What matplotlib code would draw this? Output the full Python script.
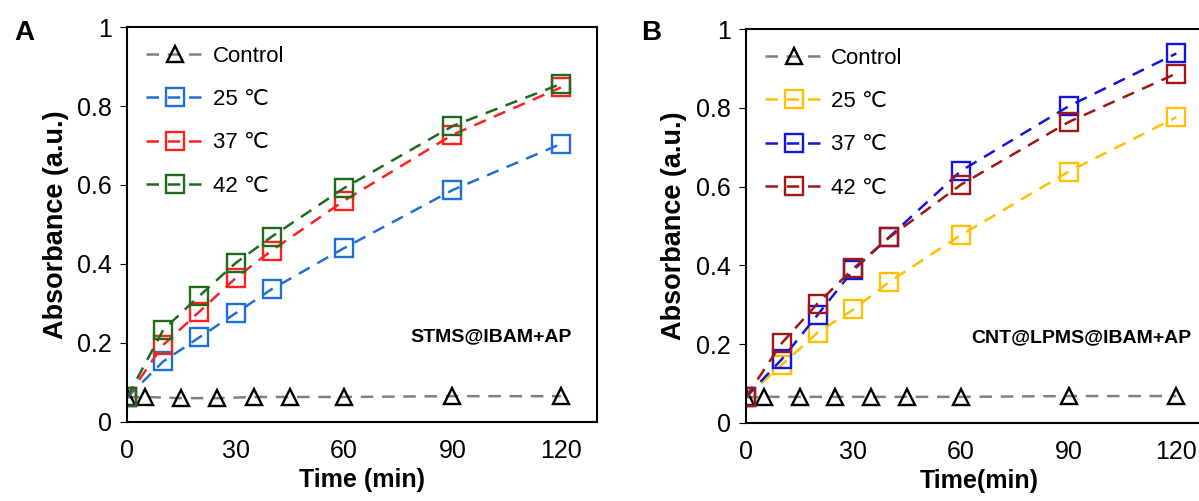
import matplotlib.pyplot as plt

plt.rcParams['font.family'] = ['Liberation Sans', 'DejaVu Sans']

# control (same sampling in both panels)
t_ctrl = [0, 5, 15, 25, 35, 45, 60, 90, 120]
ctrl_a = [0.062, 0.063, 0.060, 0.060, 0.063, 0.063, 0.063, 0.065, 0.065]
ctrl_b = [0.065, 0.066, 0.066, 0.066, 0.066, 0.066, 0.066, 0.068, 0.068]

t = [0, 10, 20, 30, 40, 60, 90, 120]

# panel A: STMS@IBAM+AP
a_25 = [0.062, 0.153, 0.214, 0.275, 0.336, 0.440, 0.587, 0.704]
a_37 = [0.062, 0.195, 0.279, 0.364, 0.434, 0.560, 0.727, 0.847]
a_42 = [0.062, 0.233, 0.319, 0.402, 0.469, 0.592, 0.749, 0.856]

# panel B: CNT@LPMS@IBAM+AP
b_25 = [0.065, 0.147, 0.229, 0.288, 0.358, 0.477, 0.638, 0.776]
b_37 = [0.065, 0.161, 0.274, 0.388, 0.472, 0.640, 0.804, 0.938]
b_42 = [0.065, 0.202, 0.303, 0.392, 0.471, 0.605, 0.764, 0.887]

labels = ["25 ℃", "37 ℃", "42 ℃"]
cols_a = ["#1f6fd8", "#ff2020", "#1e6b1e"]
cols_b = ["#ffc000", "#1414e0", "#a01515"]

fig = plt.figure(figsize=(11.99, 5.01), dpi=100)
ax1 = fig.add_axes([0.106, 0.158, 0.392, 0.788])
ax2 = fig.add_axes([0.622, 0.156, 0.389, 0.786])

dash = (5, 3.5)


def panel(ax, ctrl, series, cols, note, xlab):
    ax.plot(t_ctrl, ctrl, ls='--', dashes=dash, color='#808080', lw=1.8,
            marker='^', ms=11, mfc='none', mec='black', mew=1.7, label='Control')
    for y, c, lab in zip(series, cols, labels):
        ax.plot(t, y, ls='--', dashes=dash, color=c, lw=1.8,
                marker='s', ms=12.5, mfc='none', mec=c, mew=1.7, label=lab)
    ax.set_xlim(0, 130)
    ax.set_ylim(0, 1)
    ax.set_xticks([0, 30, 60, 90, 120])
    ax.set_yticks([0, 0.2, 0.4, 0.6, 0.8, 1])
    ax.set_yticklabels(["0", "0.2", "0.4", "0.6", "0.8", "1"])
    ax.tick_params(axis='x', length=0, labelsize=18, pad=12)
    ax.tick_params(axis='y', length=5, direction='out', labelsize=18, pad=6)
    for s in ax.spines.values():
        s.set_linewidth(1.5)
    ax.set_xlabel(xlab, fontsize=18, fontweight='bold', labelpad=4)
    ax.set_ylabel("Absorbance (a.u.)", fontsize=19.5, fontweight='bold', labelpad=6)
    ax.text(0.945 if ax is ax1 else 0.955, 0.215, note, transform=ax.transAxes,
            ha='right', va='center', fontsize=14, fontweight='bold')
    ax.legend(loc='upper left', frameon=False, fontsize=16, handlelength=2.6,
              numpoints=1, labelspacing=1.0, borderaxespad=0.45,
              handletextpad=0.4)


panel(ax1, ctrl_a, [a_25, a_37, a_42], cols_a, "STMS@IBAM+AP", "Time (min)")
panel(ax2, ctrl_b, [b_25, b_37, b_42], cols_b, "CNT@LPMS@IBAM+AP", "Time(min)")

fig.text(0.012, 0.935, "A", fontsize=20, fontweight='bold', va='center')
fig.text(0.535, 0.935, "B", fontsize=20, fontweight='bold', va='center')

fig.savefig("out.png", dpi=100)
